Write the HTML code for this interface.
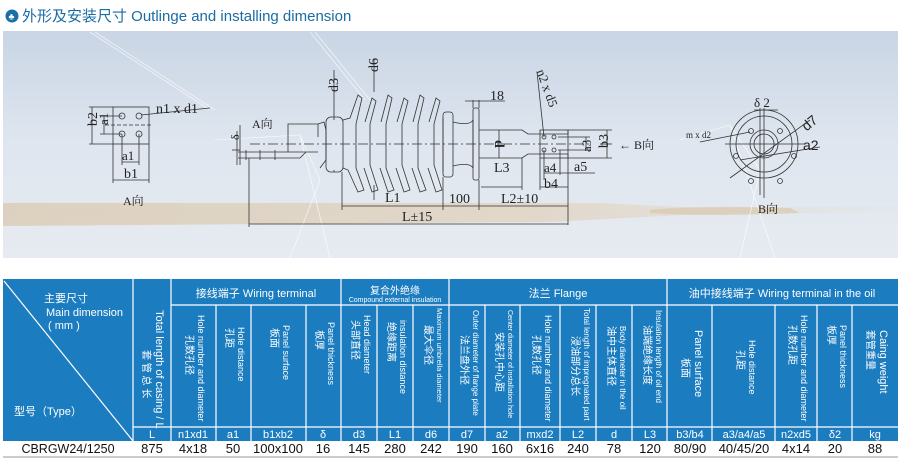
<!DOCTYPE html>
<html><head><meta charset="utf-8"><style>
html,body{margin:0;padding:0;background:#fff;}
svg{display:block;}
.d{font-family:"Liberation Serif","Noto Serif CJK SC",serif;font-size:14px;fill:#222;}
.t{font-family:"Liberation Sans","Noto Sans CJK SC",sans-serif;fill:#fff;}
.k{font-family:"Liberation Sans","Noto Sans CJK SC",sans-serif;fill:#111;font-size:13px;}
</style></head><body>
<svg width="900" height="462" viewBox="0 0 900 462" xmlns="http://www.w3.org/2000/svg">
<defs>
<linearGradient id="sky" x1="0" y1="0" x2="0" y2="1">
<stop offset="0" stop-color="#c9d5e5"/><stop offset="0.5" stop-color="#dfe6ef"/><stop offset="1" stop-color="#e6ebf1"/>
</linearGradient>
<linearGradient id="sand" x1="0" y1="0" x2="1" y2="0">
<stop offset="0" stop-color="#d9c4a6"/><stop offset="0.6" stop-color="#e0cfb6"/><stop offset="1" stop-color="#e3e6ea"/>
</linearGradient>
</defs>
<!-- title -->
<circle cx="12" cy="16" r="6.5" fill="#1b6fa8"/>
<text x="8.5" y="19.5" fill="#fff" font-size="9" font-family="Liberation Sans">♣</text>
<text x="22" y="21" font-family="Liberation Sans,'Noto Sans CJK SC',sans-serif" font-size="15" fill="#1a6ca3">外形及安装尺寸 Outlinge and installing dimension</text>
<!-- background -->
<rect x="3" y="31" width="895" height="227" fill="url(#sky)"/>
<path d="M3 203 L600 203 L700 208 L898 206 L898 212 L700 214 L550 222 L3 226Z" fill="url(#sand)" opacity="0.65"/>
<path d="M650 210 Q690 205 790 208 L800 213 Q700 217 650 213Z" fill="#d9c4a6" opacity="0.6"/>
<g stroke="#fff" stroke-width="0.8" fill="none" opacity="0.7">
<path d="M90 32 L210 110 M95 32 L215 110 M310 32 L365 100 M315 32 L370 100"/>
<path d="M215 140 L300 135 L320 180 L290 258 M300 135 L330 258 M680 140 L730 125 L760 170 L740 258 M730 125 L775 258"/>
</g>
<!-- drawing lines -->
<g stroke="#333" stroke-width="0.8" fill="none">
<rect x="113" y="107" width="36" height="37"/>
<line x1="89" y1="107" x2="113" y2="107"/><line x1="89" y1="144" x2="113" y2="144"/>
<line x1="92" y1="107" x2="92" y2="144"/>
<line x1="100" y1="116" x2="122" y2="116"/><line x1="100" y1="134" x2="122" y2="134"/>
<line x1="104" y1="116" x2="104" y2="134"/>
<line x1="105" y1="125" x2="152" y2="125" stroke-dasharray="4,2"/>
<circle cx="122" cy="116" r="3"/><circle cx="139" cy="116" r="3"/><circle cx="122" cy="134" r="3"/><circle cx="139" cy="134" r="3"/>
<line x1="141" y1="115" x2="210" y2="108"/>
<line x1="122" y1="134" x2="122" y2="165"/><line x1="139" y1="134" x2="139" y2="165"/>
<line x1="122" y1="162" x2="139" y2="162"/>
<line x1="113" y1="144" x2="113" y2="183"/><line x1="149" y1="144" x2="149" y2="183"/>
<line x1="113" y1="180" x2="149" y2="180"/>
<line x1="240" y1="125" x2="240" y2="165"/>
<line x1="238" y1="152" x2="306" y2="152"/><line x1="238" y1="158" x2="300" y2="158"/>
<line x1="246" y1="150" x2="246" y2="160"/><line x1="260" y1="150" x2="260" y2="160"/><line x1="275" y1="150" x2="275" y2="160"/>
<path d="M288 152 L288 124 L318 124 L318 137 M300 158 L306 152 L318 152"/>
<path d="M318 124 L324 122 L326 130 L326 160 L320 168"/>
<rect x="326" y="117" width="17" height="55" rx="5"/>
<line x1="250" y1="144" x2="590" y2="144" stroke-dasharray="10,3,2,3"/>
<path d="M343 120 L350 118 L358 95 L362 98 L356 124 L356 168 L364 190 L358 192 L348 170 L343 168"/>
<path d="M365 122 L372 98 L376 101 L370 124 L370 165 L378 190 L372 192 L364 168"/>
<path d="M381 122 L388 95 L392 98 L386 124 L386 168 L394 190 L388 192 L380 168"/>
<path d="M397 122 L404 98 L408 101 L402 124 L402 165 L410 190 L404 192 L396 168"/>
<path d="M413 122 L420 95 L424 98 L418 124 L418 168 L426 190 L420 192 L412 168"/>
<path d="M429 122 L436 98 L440 101 L434 124 L434 165 L442 190 L436 192 L428 168"/>
<line x1="443" y1="118" x2="443" y2="172"/>
<rect x="443" y="112" width="10" height="65" rx="3"/>
<path d="M453 122 Q470 126 473 120 L473 168 Q470 162 453 166"/>
<rect x="473" y="108" width="6" height="72" rx="2"/>
<path d="M479 130 L522 130 L528 134 L568 134 L568 130 M479 158 L522 158 L528 154 L568 154 L568 158"/>
<rect x="540" y="130" width="28" height="28"/>
<circle cx="544" cy="137" r="2"/><circle cx="554" cy="137" r="2"/><circle cx="544" cy="150" r="2"/><circle cx="554" cy="150" r="2"/>
<line x1="537" y1="72" x2="544" y2="137"/>
<line x1="568" y1="130" x2="612" y2="130"/><line x1="568" y1="158" x2="612" y2="158"/>
<line x1="607" y1="130" x2="607" y2="158"/><line x1="558" y1="137" x2="590" y2="137"/><line x1="558" y1="150" x2="590" y2="150"/><line x1="586" y1="137" x2="586" y2="150"/>
<line x1="544" y1="150" x2="544" y2="180"/><line x1="560" y1="150" x2="560" y2="175"/>
<line x1="544" y1="173" x2="595" y2="173"/>
<line x1="540" y1="158" x2="540" y2="190"/><line x1="568" y1="158" x2="568" y2="225"/>
<line x1="540" y1="187" x2="568" y2="187"/>
<line x1="522" y1="158" x2="522" y2="190"/><line x1="481" y1="187" x2="522" y2="187"/>
<line x1="499" y1="130" x2="499" y2="158"/>
<line x1="473" y1="100" x2="473" y2="108"/><line x1="479" y1="100" x2="479" y2="108"/><line x1="465" y1="101" x2="505" y2="101"/>
<line x1="342" y1="172" x2="342" y2="210"/><line x1="443" y1="177" x2="443" y2="210"/><line x1="479" y1="180" x2="479" y2="210"/>
<line x1="342" y1="206" x2="568" y2="206"/>
<line x1="249" y1="158" x2="249" y2="227"/><line x1="249" y1="224" x2="568" y2="224"/>
<line x1="334" y1="70" x2="334" y2="120"/><line x1="334" y1="170" x2="334" y2="172"/>
<line x1="374" y1="60" x2="374" y2="92"/><line x1="374" y1="185" x2="374" y2="200"/>
<line x1="237" y1="131" x2="237" y2="165"/><line x1="240" y1="150" x2="232" y2="150"/>
<line x1="600" y1="144" x2="612" y2="144"/>
<circle cx="764" cy="144" r="34"/><circle cx="764" cy="144" r="28"/>
<circle cx="764" cy="144" r="14"/><circle cx="764" cy="144" r="10"/>
<line x1="764" y1="108" x2="764" y2="198"/><line x1="760" y1="108" x2="760" y2="195"/>
<line x1="725" y1="144" x2="805" y2="144"/>
<line x1="730" y1="178" x2="810" y2="120"/><line x1="740" y1="160" x2="820" y2="147"/>
<line x1="700" y1="142" x2="750" y2="132"/>
<line x1="754" y1="110" x2="778" y2="110"/>
<circle cx="736" cy="156" r="2.5"/><circle cx="794" cy="156" r="2.5"/><circle cx="751" cy="131" r="2.5"/><circle cx="780" cy="131" r="2.5"/><circle cx="751" cy="181" r="2.5"/><circle cx="780" cy="181" r="2.5"/>
</g>
<g class="d">
<text x="156" y="113">n1 x d1</text>
<text x="122" y="160" font-size="13">a1</text><text x="124" y="178">b1</text>
<text x="123" y="205" font-size="12">A向</text>
<text x="89" y="134" transform="rotate(-90 89 126)">b2</text>
<text x="101" y="132" transform="rotate(-90 101 125)" font-size="13">a1</text>
<text x="252" y="128" font-size="12">A向</text>
<text x="235" y="144" transform="rotate(-90 235 140)" font-size="12">δ</text>
<text x="331" y="99" transform="rotate(-90 331 92)">d3</text>
<text x="372" y="78" transform="rotate(-90 372 72)">d6</text>
<text x="385" y="202">L1</text><text x="449" y="203">100</text><text x="402" y="221">L±15</text>
<text x="490" y="100">18</text>
<text x="494" y="172">L3</text><text x="501" y="203">L2±10</text>
<text x="544" y="172" font-size="13">a4</text><text x="574" y="171">a5</text><text x="544" y="188">b4</text>
<text x="577" y="148" transform="rotate(-90 586 143)" font-size="13">a3</text>
<text x="598" y="148" transform="rotate(-90 603 143)">b3</text>
<text x="493" y="146" transform="rotate(90 497 144)" font-weight="bold">d</text>
<text x="524" y="71" transform="rotate(70 530 80)" font-size="13">n2 x d5</text>
<text x="619" y="149" font-size="12">← B向</text>
<text x="686" y="138" font-size="9">m x d2</text>
<text x="754" y="107" font-size="13">δ 2</text>
<text x="802" y="129" transform="rotate(-40 808 124)" font-family="Liberation Sans" font-size="14">d7</text>
<text x="803" y="150" font-family="Liberation Sans" font-size="14">a2</text>
<text x="758" y="213" font-size="12">B向</text>
</g>
<rect x="3" y="279" width="895" height="162" fill="#1b7cc0"/>
<g stroke="#fff" stroke-width="1.2">
<line x1="133" y1="279" x2="133" y2="441"/>
<line x1="171" y1="279" x2="171" y2="441"/>
<line x1="341" y1="279" x2="341" y2="305"/><line x1="449" y1="279" x2="449" y2="441"/><line x1="667" y1="279" x2="667" y2="441"/>
<line x1="171" y1="305" x2="898" y2="305"/>
<line x1="133" y1="427" x2="898" y2="427"/>
<line x1="216" y1="305" x2="216" y2="441"/><line x1="251" y1="305" x2="251" y2="441"/><line x1="306" y1="305" x2="306" y2="441"/><line x1="341" y1="305" x2="341" y2="441"/><line x1="377" y1="305" x2="377" y2="441"/><line x1="413" y1="305" x2="413" y2="441"/>
<line x1="485" y1="305" x2="485" y2="441"/><line x1="520" y1="305" x2="520" y2="441"/><line x1="560" y1="305" x2="560" y2="441"/><line x1="596" y1="305" x2="596" y2="441"/><line x1="632" y1="305" x2="632" y2="441"/>
<line x1="712" y1="305" x2="712" y2="441"/><line x1="775" y1="305" x2="775" y2="441"/><line x1="817" y1="305" x2="817" y2="441"/><line x1="852" y1="305" x2="852" y2="441"/>
<line x1="4" y1="281" x2="133" y2="441"/>
</g>
<g class="t" font-size="11">
<text x="44" y="302">主要尺寸</text>
<text x="46" y="316">Main dimension</text>
<text x="48" y="329">( mm )</text>
<text x="14" y="415">型号（Type）</text>
<text x="256" y="297" text-anchor="middle" font-size="11">接线端子 Wiring terminal</text>
<text x="395" y="294" text-anchor="middle" font-size="10">复合外绝缘</text>
<text x="395" y="302" text-anchor="middle" font-size="7">Compound external insulation</text>
<text x="558" y="297" text-anchor="middle">法兰 Flange</text>
<text x="782" y="297" text-anchor="middle">油中接线端子 Wiring terminal in the oil</text>
</g>
<g class="t" font-size="9">
<g transform="translate(152 310) rotate(90)"><text x="0" y="-4" font-size="11">Total length of casing / L</text><text x="40" y="9" font-size="10">套 管 总 长</text></g>
<g transform="translate(193 310) rotate(90)"><text x="5" y="-5">Hole number and diameter</text><text x="25" y="7" font-size="10">孔数孔径</text></g>
<g transform="translate(233 310) rotate(90)"><text x="17" y="-5">Hole distance</text><text x="18" y="7" font-size="10">孔距</text></g>
<g transform="translate(278 310) rotate(90)"><text x="15" y="-5">Panel surface</text><text x="18" y="7" font-size="10">板面</text></g>
<g transform="translate(323 310) rotate(90)"><text x="12" y="-5">Panel thickness</text><text x="20" y="7" font-size="10">板厚</text></g>
<g transform="translate(359 310) rotate(90)"><text x="5" y="-5">Head diameter</text><text x="10" y="7" font-size="10">头部直径</text></g>
<g transform="translate(395 310) rotate(90)"><text x="10" y="-5">insulation distance</text><text x="12" y="7" font-size="10">绝缘距离</text></g>
<g transform="translate(431 310) rotate(90)"><text x="-2" y="-6" font-size="7.5">Maximum umbrella diameter</text><text x="15" y="6" font-size="10">最大伞径</text></g>
<g transform="translate(467 310) rotate(90)"><text x="0" y="-6" font-size="8">Outer diameter of flange plate</text><text x="25" y="6" font-size="10">法兰盘外径</text></g>
<g transform="translate(502 310) rotate(90)"><text x="0" y="-6" font-size="7">Center diameter of installation hole</text><text x="22" y="6" font-size="10">安装孔中心距</text></g>
<g transform="translate(540 310) rotate(90)"><text x="5" y="-5">Hole number and diameter</text><text x="25" y="7" font-size="10">孔数孔径</text></g>
<g transform="translate(578 310) rotate(90)"><text x="-2" y="-6" font-size="8">Total length of impregnated part</text><text x="26" y="6" font-size="10">浸油部分总长</text></g>
<g transform="translate(614 310) rotate(90)"><text x="16" y="-6" font-size="8">Body diameter in the oil</text><text x="16" y="6" font-size="10">油中主体直径</text></g>
<g transform="translate(650 310) rotate(90)"><text x="0" y="-6" font-size="8">Insulation length of oil end</text><text x="15" y="6" font-size="10">油端绝缘长度</text></g>
<g transform="translate(690 310) rotate(90)"><text x="20" y="-5" font-size="11">Panel surface</text><text x="48" y="8" font-size="10">板面</text></g>
<g transform="translate(744 310) rotate(90)"><text x="30" y="-5">Hole distance</text><text x="40" y="7" font-size="10">孔距</text></g>
<g transform="translate(796 310) rotate(90)"><text x="5" y="-5">Hole number and diameter</text><text x="15" y="7" font-size="10">孔数孔距</text></g>
<g transform="translate(835 310) rotate(90)"><text x="15" y="-5">Panel thickness</text><text x="15" y="7" font-size="10">板厚</text></g>
<g transform="translate(875 310) rotate(90)"><text x="20" y="-5" font-size="11">Caing weight</text><text x="20" y="8" font-size="10">套管重量</text></g>
</g>
<g class="t" font-size="11" text-anchor="middle">
<text x="152" y="438">L</text><text x="193" y="438">n1xd1</text><text x="233" y="438">a1</text><text x="278" y="438">b1xb2</text><text x="323" y="438">δ</text><text x="359" y="438">d3</text><text x="395" y="438">L1</text><text x="431" y="438">d6</text>
<text x="467" y="438">d7</text><text x="502" y="438">a2</text><text x="540" y="438">mxd2</text><text x="578" y="438">L2</text><text x="614" y="438">d</text><text x="650" y="438">L3</text>
<text x="690" y="438">b3/b4</text><text x="744" y="438">a3/a4/a5</text><text x="796" y="438">n2xd5</text><text x="835" y="438">δ2</text><text x="875" y="438">kg</text>
</g>
<g class="k" text-anchor="middle">
<text x="68" y="453" font-size="12.5">CBRGW24/1250</text>
<text x="152" y="453">875</text><text x="193" y="453">4x18</text><text x="233" y="453">50</text><text x="278" y="453">100x100</text><text x="323" y="453">16</text><text x="359" y="453">145</text><text x="395" y="453">280</text><text x="431" y="453">242</text>
<text x="467" y="453">190</text><text x="502" y="453">160</text><text x="540" y="453">6x16</text><text x="578" y="453">240</text><text x="614" y="453">78</text><text x="650" y="453">120</text>
<text x="690" y="453">80/90</text><text x="744" y="453">40/45/20</text><text x="796" y="453">4x14</text><text x="835" y="453">20</text><text x="875" y="453">88</text>
</g>
<line x1="3" y1="457" x2="898" y2="457" stroke="#bbb" stroke-width="1.5"/>
</svg>
</body></html>
